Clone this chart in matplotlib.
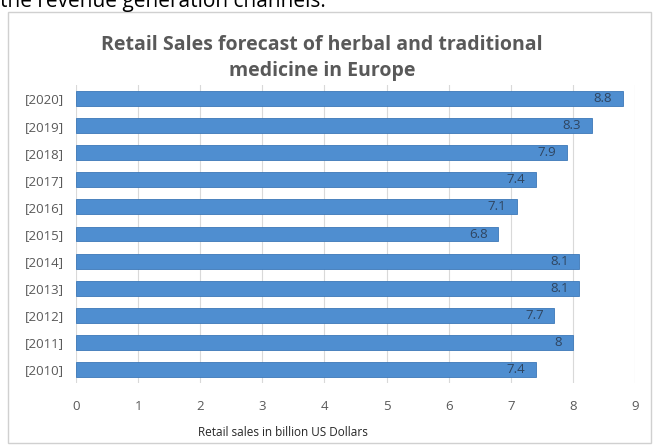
import matplotlib.pyplot as plt
from matplotlib.patches import Rectangle

plt.rcParams['font.family'] = ['Open Sans', 'DejaVu Sans']

years = ['[2010]', '[2011]', '[2012]', '[2013]', '[2014]', '[2015]',
         '[2016]', '[2017]', '[2018]', '[2019]', '[2020]']
sales = [7.4, 8, 7.7, 8.1, 8.1, 6.8, 7.1, 7.4, 7.9, 8.3, 8.8]
xticks = [0, 1, 2, 3, 4, 5, 6, 7, 8, 9]

fig = plt.figure(figsize=(6.55, 4.47), dpi=100)
fig.patch.set_facecolor('white')

# chart frame
fig.patches.append(Rectangle((8 / 655, 4 / 447), 643 / 655, 431 / 447,
                             transform=fig.transFigure, fill=False,
                             edgecolor='#d0d0d0', linewidth=1))

# clipped text from the page above the chart (cut off in the source too)
fig.text(0.0, 1 - 7 / 447, 'the revenue generation channels.',
         fontsize=15, color='black', va='baseline', ha='left')

ax = fig.add_axes([76 / 655, 1 - 383 / 447, 559 / 655, 298 / 447])
ypos = list(range(len(years)))
ax.barh(ypos, sales, height=0.55, color='#4F8ED0',
        edgecolor='#3C78B8', linewidth=0.6, zorder=3)
for y, v in zip(ypos, sales):
    ax.text(v - 0.17, y, f'{v:g}', ha='right', va='center',
            fontsize=9.5, color='#2f4560', zorder=4)

ax.set_xlim(0, 9)
ax.set_ylim(-0.5, len(years) - 0.5)
ax.set_xticks(xticks)
ax.set_yticks(ypos)
ax.set_yticklabels(years)
ax.tick_params(axis='both', length=0, colors='#595959', labelsize=9.5)
ax.tick_params(axis='x', pad=12)
ax.tick_params(axis='y', pad=9)
ax.grid(axis='x', color='#d9d9d9', linewidth=0.8, zorder=0)
for s in ax.spines.values():
    s.set_visible(False)

fig.text(283 / 655, 1 - 433 / 447, 'Retail sales in billion US Dollars',
         ha='center', va='center', fontsize=8.5, color='#262626')

fig.text(0.492, 1 - 58 / 447,
         'Retail Sales forecast of herbal and traditional\nmedicine in Europe',
         ha='center', va='center', fontsize=14, fontweight='bold',
         color='#595959', linespacing=1.4)

fig.savefig('out.png', dpi=100)
